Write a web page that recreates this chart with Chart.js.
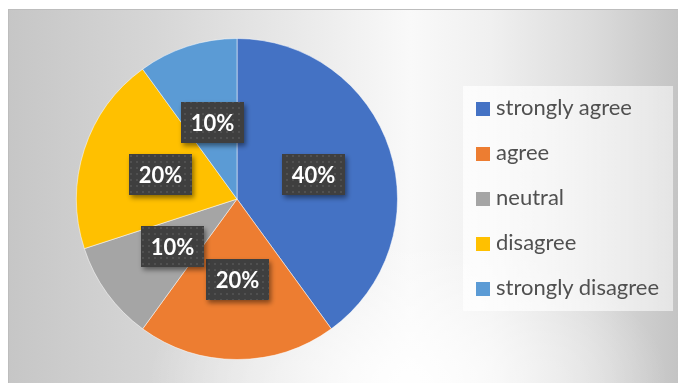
<!DOCTYPE html>
<html>
<head>
<meta charset="utf-8">
<script src="https://cdn.jsdelivr.net/npm/chart.js@4"></script>
<style>
    html, body { margin: 0; padding: 0; background: #fff; }
    body { width: 678px; height: 383px; position: relative; overflow: hidden; }
    #chartBox {
        position: absolute; left: 8px; top: 9px; width: 670px; height: 374px;
        background:
            radial-gradient(ellipse 260px 140px at 400px 372px, rgba(255,255,255,0.9), rgba(255,255,255,0)),
            linear-gradient(to right, #c6c6c6 0%, #d6d6d6 22%, #ebebeb 45%, #f9f9f9 60%, #f0f0f0 72%, #dadada 88%, #c4c4c4 100%);
        box-shadow: inset 1px 1px 0 #bdbdbd;
    }
    #pie { position: absolute; left: 0; top: 0; }
    #legend {
        position: absolute; left: 455px; top: 77px; width: 210px; height: 225px;
        background: linear-gradient(to right, rgba(255,255,255,0.75), rgba(255,255,255,0.55));
    }
    .item {
        position: absolute; left: 13px; height: 24px;
        font-family: Lato, "Open Sans", sans-serif; font-size: 22px; color: #505050;
        line-height: 24px; white-space: nowrap;
    }
    .item span.box { position: absolute; left: 0; top: 5px; width: 14px; height: 14px; }
    .item span.txt { position: absolute; left: 20px; top: -2px; }
</style>
</head>
<body>
<div id="chartBox">
    <canvas id="pie" width="670" height="374"></canvas>
    <div id="legend"></div>
</div>
<script>
const categories = ['strongly agree', 'agree', 'neutral', 'disagree', 'strongly disagree'];
const shares = [40, 20, 10, 20, 10];
const colors = ['#4472C4', '#ED7D31', '#A5A5A5', '#FFC000', '#5B9BD5'];

// dark dotted fill used behind the percentage labels
function dotPattern(ctx) {
    const c = document.createElement('canvas');
    c.width = 6; c.height = 6;
    const p = c.getContext('2d');
    p.fillStyle = '#3f3f3f';
    p.fillRect(0, 0, 6, 6);
    p.fillStyle = '#505050';
    p.fillRect(2, 2, 2, 2);
    return ctx.createPattern(c, 'repeat');
}

const percentLabels = {
    id: 'percentLabels',
    afterDatasetsDraw(chart) {
        const ctx = chart.ctx;
        const meta = chart.getDatasetMeta(0);
        const fill = dotPattern(ctx);
        const w = 63, h = 41;
        meta.data.forEach((arc, i) => {
            const pos = arc.tooltipPosition();
            const x = Math.round(pos.x - w / 2), y = Math.round(pos.y - h / 2);
            ctx.save();
            ctx.shadowColor = 'rgba(0,0,0,0.45)';
            ctx.shadowBlur = 5;
            ctx.shadowOffsetX = 2;
            ctx.shadowOffsetY = 3;
            ctx.fillStyle = fill;
            ctx.fillRect(x, y, w, h);
            ctx.restore();

            ctx.save();
            ctx.fillStyle = '#ffffff';
            ctx.font = 'bold 22px Lato, "Open Sans", sans-serif';
            ctx.textAlign = 'center';
            ctx.textBaseline = 'middle';
            ctx.fillText(shares[i] + '%', x + w / 2, y + h / 2 + 1);
            ctx.restore();
        });
    }
};

const chart = new Chart(document.getElementById('pie').getContext('2d'), {
    type: 'pie',
    data: {
        labels: categories,
        datasets: [{
            data: shares,
            backgroundColor: colors,
            borderColor: 'rgba(255,255,255,0.5)',
            borderWidth: 1
        }]
    },
    options: {
        responsive: false,
        animation: false,
        layout: { padding: { left: 68, top: 29, right: 280, bottom: 23 } },
        plugins: {
            legend: { display: false },
            tooltip: { enabled: false }
        }
    },
    plugins: [percentLabels]
});

// legend built from the chart's own labels and colours
const legend = document.getElementById('legend');
chart.data.labels.forEach((label, i) => {
    const item = document.createElement('div');
    item.className = 'item';
    item.style.top = (11 + i * 45) + 'px';
    item.innerHTML = `<span class="box" style="background:${chart.data.datasets[0].backgroundColor[i]}"></span><span class="txt">${label}</span>`;
    legend.appendChild(item);
});
</script>
</body>
</html>
